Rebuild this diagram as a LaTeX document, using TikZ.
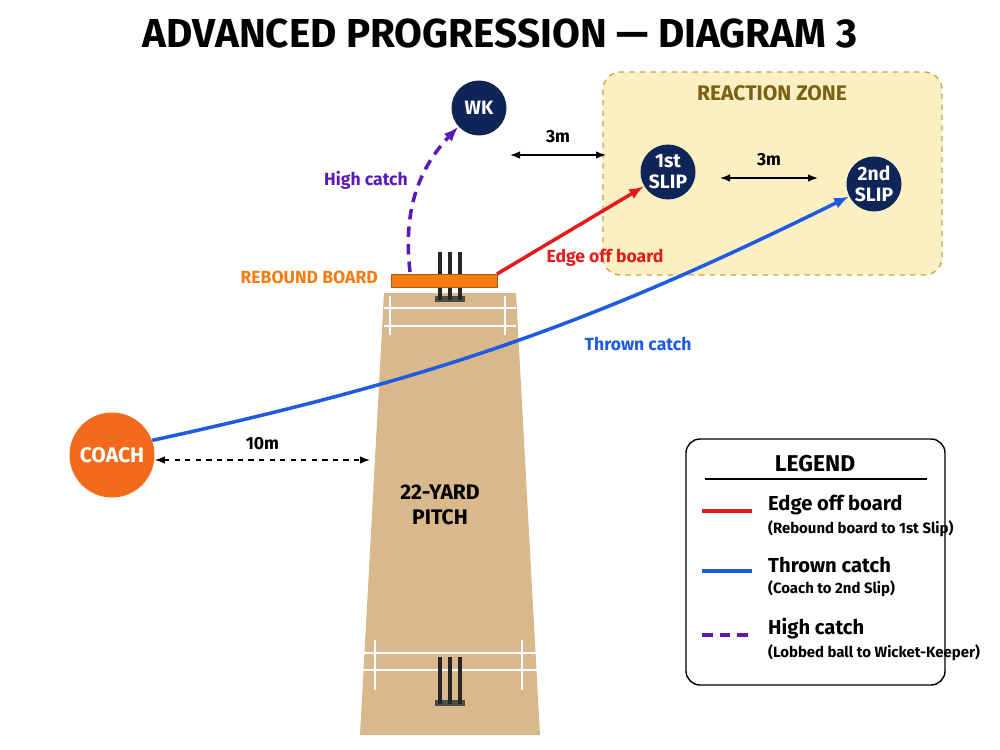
\documentclass[tikz,border=0pt]{standalone}
\usepackage{fontspec}
\setmainfont{Fira Sans}
\usetikzlibrary{arrows.meta,positioning}
\definecolor{navy}{HTML}{0F2557}
\definecolor{coachorange}{HTML}{F26B1D}
\definecolor{boardorange}{HTML}{F57C12}
\definecolor{pitchtan}{HTML}{D9B98C}
\definecolor{zonefill}{HTML}{FBF0C4}
\definecolor{zoneedge}{HTML}{C9A53A}
\definecolor{zonetext}{HTML}{7A6214}
\definecolor{edgered}{HTML}{E31B1B}
\definecolor{throwblue}{HTML}{1F5BE0}
\definecolor{lobpurple}{HTML}{5B1AB8}
\tikzset{
  fielder/.style={circle,fill=navy,text=white,font=\bfseries\fontsize{11}{12}\selectfont,minimum size=1.1cm,inner sep=0pt,align=center},
  stump/.style={line width=2.6pt,black!85},
  crease/.style={white,line width=1.6pt},
  gap/.style={{Latex[length=2mm]}-{Latex[length=2mm]},thick},
  lbl/.style={font=\bfseries\fontsize{10}{11}\selectfont},
  lob/.style={dash pattern=on 6pt off 4pt}
}
\begin{document}
\begin{tikzpicture}[x=0.02cm,y=-0.02cm]
\useasboundingbox (0,0) rectangle (1000,750);
%%% TITLE %%%
\node[font=\bfseries\fontsize{23}{25}\selectfont] (title) at (500,33) {ADVANCED PROGRESSION — DIAGRAM 3};

%%% REACTION ZONE %%%
\draw[zoneedge,fill=zonefill,dashed,thick,rounded corners=10pt] (603,72) rectangle (942,275);
\node[lbl,text=zonetext,font=\bfseries\fontsize{12}{13}\selectfont] (zone) at (772,93) {REACTION ZONE};

%%% PITCH %%%
\fill[pitchtan] (384,293) -- (516,293) -- (540,735) -- (360,735) -- cycle;
\draw[crease] (384,308) -- (516,308);
\draw[crease] (384,326) -- (516,326);
\draw[crease] (390,296) -- (390,335);
\draw[crease] (505,296) -- (505,335);
\draw[crease] (362,653) -- (538,653);
\draw[crease] (362,670) -- (538,670);
\draw[crease] (375,640) -- (375,690);
\draw[crease] (522,640) -- (522,690);
\node[lbl,font=\bfseries\fontsize{12}{14}\selectfont,align=center] (pitch) at (440,505) {22-YARD\\PITCH};
% stumps
\fill[black!70] (435,296) rectangle (465,302);
\fill[black!70] (435,700) rectangle (465,706);
\foreach \x in {440,450,460}{
  \draw[stump] (\x,252) -- (\x,300);
  \draw[stump] (\x,657) -- (\x,704);
}
% rebound board
\draw[boardorange!70!black,fill=boardorange] (391,274) rectangle (497,287);
\coordinate (boardR) at (497,274);
\coordinate (boardL) at (410,272);
\node[lbl,text=boardorange,anchor=east] (board) at (384,277) {REBOUND BOARD};

%%% FIELDERS %%%
\node[fielder] (wk) at (479,108) {WK};
\node[fielder] (slip1) at (668,172) {1st\\SLIP};
\node[fielder] (slip2) at (874,184) {2nd\\SLIP};
\node[circle,fill=coachorange,text=white,font=\bfseries\fontsize{12}{13}\selectfont,minimum size=1.7cm,inner sep=0pt] (coach) at (112,455) {COACH};

%%% PATHS %%%
\draw[edgered,line width=2pt,-{Latex[length=3mm]}] (boardR) -- (slip1);
\node[lbl,text=edgered] (edgelbl) at (605,258) {Edge off board};
\draw[throwblue,line width=2pt,-{Latex[length=3mm]}] (coach.20) to[bend right=7] (slip2);
\node[lbl,text=throwblue] (throwlbl) at (638,344) {Thrown catch};
\draw[lobpurple,line width=2pt,lob,-{Latex[length=3mm]}] (boardL) to[bend left=25] (wk);
\node[lbl,text=lobpurple] (loblbl) at (366,180) {High catch};

%%% DISTANCES %%%
\coordinate (g1a) at (510,155); \coordinate (g1b) at (606,155);
\draw[gap] (g1a) -- (g1b) node[midway,above=3pt,lbl,black] {3m};
\coordinate (g2a) at (720,178); \coordinate (g2b) at (818,178);
\draw[gap] (g2a) -- (g2b) node[midway,above=3pt,lbl,black] {3m};
\coordinate (g3b) at (370,460);
\draw[gap,dashed] (coach.east |- g3b) -- (g3b) node[midway,above=2pt,lbl,black] {10m};

%%% LEGEND %%%
\draw[thick,rounded corners=8pt,fill=white] (686,439) rectangle (945,685);
\node[lbl,font=\bfseries\fontsize{13}{14}\selectfont] (legtitle) at (815,464) {LEGEND};
\draw[thick] (705,479) -- (927,479);
\foreach \y/\col/\sty/\main/\sub in {
  511/edgered/solid/Edge off board/(Rebound board to 1st Slip),
  571/throwblue/solid/Thrown catch/(Coach to 2nd Slip),
  635/lobpurple/lob/High catch/(Lobbed ball to Wicket-Keeper)}{
  \draw[\col,line width=2pt,\sty] (702,\y) -- (752,\y);
  \node[lbl,anchor=west,font=\bfseries\fontsize{11.5}{13}\selectfont] at (762,\y-6) {\main};
  \node[anchor=west,font=\fontsize{8.5}{10}\selectfont\bfseries] at (762,\y+18) {\sub};
}
\end{tikzpicture}
\end{document}
